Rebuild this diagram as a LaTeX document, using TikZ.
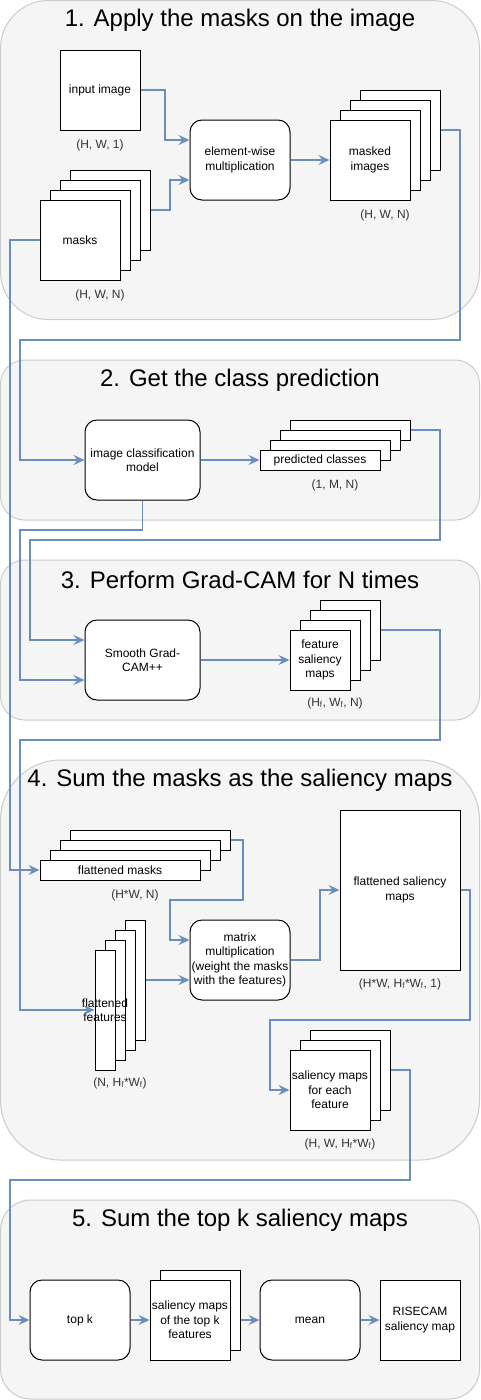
\documentclass[tikz,border=0pt]{standalone}
\usepackage{fontspec}
\setmainfont{Liberation Sans}
\usetikzlibrary{arrows.meta}
\definecolor{secfill}{HTML}{F5F5F5}
\definecolor{secline}{HTML}{CCCCCC}
\definecolor{connblue}{HTML}{6C8EBF}
\definecolor{dimtext}{HTML}{333333}
\tikzset{
  sec/.style={draw=secline, fill=secfill, line width=1pt, inner sep=0pt},
  ttl/.style={font=\fontsize{24}{28}\selectfont, text=black, inner sep=0pt},
  sz/.style 2 args={minimum width=#1, minimum height=#2},
  box/.style={draw=black, fill=white, line width=1pt, inner sep=1pt, align=center, font=\fontsize{12}{14.4}\selectfont},
  rbox/.style={box, rounded corners=12pt},
  dim/.style={font=\fontsize{12}{14.4}\selectfont, text=dimtext, inner sep=0pt},
  conn/.style={draw=connblue, line width=1.3pt, -{Stealth[length=11pt,width=10pt,inset=4pt]}},
}
\begin{document}
\begin{tikzpicture}[x=1pt, y=-1pt]
\useasboundingbox (0,0) rectangle (480,1400);
% sections
\node[sec, sz={479}{319}, rounded corners=48pt] (sec1) at (240,160) {};
\node[sec, sz={479}{160}, rounded corners=24pt] (sec2) at (240,440) {};
\node[sec, sz={479}{160}, rounded corners=24pt] (sec3) at (240,640) {};
\node[sec, sz={479}{400}, rounded corners=60pt] (sec4) at (240,960) {};
\node[sec, sz={479}{199}, rounded corners=30pt] (sec5) at (240,1299.5) {};
\node[ttl] (t1) at (240,20) {1. Apply the masks on the image};
\node[ttl] (t2) at (240,380) {2. Get the class prediction};
\node[ttl] (t3) at (240,580) {3. Perform Grad-CAM for N times};
\node[ttl] (t4) at (240,780) {4. Sum the masks as the saliency maps};
\node[ttl] (t5) at (240,1220) {5. Sum the top k saliency maps};
% section 1
\node[box, sz={80}{80}] (inp) at (100,90) {input image};
\node[dim] (d1) at (100,145) {(H, W, 1)};
\node[box, sz={80}{80}] (masks4) at (110,210) {};
\node[box, sz={80}{80}] (masks3) at (100,220) {};
\node[box, sz={80}{80}] (masks2) at (90,230) {};
\node[box, sz={80}{80}] (masks1) at (80,240) {masks};
\node[dim] (d2) at (100,295) {(H, W, N)};
\node[rbox, sz={100}{80}] (ew) at (240,160) {element-wise\\multiplication};
\node[box, sz={80}{80}] (mimg4) at (400,130) {};
\node[box, sz={80}{80}] (mimg3) at (390,140) {};
\node[box, sz={80}{80}] (mimg2) at (380,150) {};
\node[box, sz={80}{80}] (mimg1) at (370,160) {masked\\images};
\node[dim] (d3) at (385,215) {(H, W, N)};
% section 2
\node[rbox, sz={115}{80}] (icm) at (142.5,460) {image classification\\model};
\node[box, sz={120}{20}] (pc4) at (350,430) {};
\node[box, sz={120}{20}] (pc3) at (340,440) {};
\node[box, sz={120}{20}] (pc2) at (330,450) {};
\node[box, sz={120}{20}] (pc1) at (320,460) {predicted classes};
\node[dim] (d4) at (335,485) {(1, M, N)};
% section 3
\node[rbox, sz={115}{80}] (sg) at (142.5,660) {Smooth Grad-\\CAM++};
\node[box, sz={60}{60}] (fsm4) at (350,630) {};
\node[box, sz={60}{60}] (fsm3) at (340,640) {};
\node[box, sz={60}{60}] (fsm2) at (330,650) {};
\node[box, sz={60}{60}] (fsm1) at (320,660) {feature\\saliency\\maps};
\node[dim] (d5) at (335,703) {(H\textsubscript{f}, W\textsubscript{f}, N)};
% section 4
\node[box, sz={160}{20}] (flatm4) at (150,840) {};
\node[box, sz={160}{20}] (flatm3) at (140,850) {};
\node[box, sz={160}{20}] (flatm2) at (130,860) {};
\node[box, sz={160}{20}] (flatm1) at (120,870) {flattened masks};
\node[dim] (d6) at (135,895) {(H*W, N)};
\node[box, sz={20}{120}] (ff4) at (135,980) {};
\node[box, sz={20}{120}] (ff3) at (125,990) {};
\node[box, sz={20}{120}] (ff2) at (115,1000) {};
\node[box, sz={20}{120}, label={[align=center, font=\fontsize{12}{14.4}\selectfont, inner sep=0pt]center:flattened\\features}] (ff1) at (105,1010) {};
\node[dim] (d7) at (120,1083) {(N, H\textsubscript{f}*W\textsubscript{f})};
\node[rbox, sz={100}{80}, inner sep=0pt] (mm) at (240,960) {matrix\\multiplication\\(weight the masks\\with the features)};
\node[box, sz={120}{160}] (fsal) at (400,890) {flattened saliency\\maps};
\node[dim] (d8) at (400,984) {(H*W, H\textsubscript{f}*W\textsubscript{f}, 1)};
\node[box, sz={80}{80}] (smf3) at (350,1070) {};
\node[box, sz={80}{80}] (smf2) at (340,1080) {};
\node[box, sz={80}{80}] (smf1) at (330,1090) {saliency maps\\for each\\feature};
\node[dim] (d9) at (340,1144) {(H, W, H\textsubscript{f}*W\textsubscript{f})};
% section 5
\node[rbox, sz={100}{80}] (topk) at (80,1320) {top k};
\node[box, sz={80}{80}] (stk2) at (200,1310) {};
\node[box, sz={80}{80}] (stk1) at (190,1320) {saliency maps\\of the top k\\features};
\node[rbox, sz={100}{80}] (mean) at (310,1320) {mean};
\node[box, sz={80}{80}] (rc) at (420,1320) {RISECAM\\saliency map};
% connectors
\draw[conn] (inp.east) -- (165,90) |- ([yshift=20pt]ew.west);
\draw[conn] (masks4.east) -- (170,210) |- ([yshift=-20pt]ew.west);
\draw[conn] (ew.east) -- (mimg1.west);
\draw[conn] (mimg4.east) -- (460,130) -- (460,340) -- (20,340) |- (icm.west);
\draw[conn] (masks1.west) -- (10,240) |- (flatm1.west);
\draw[conn] (icm.east) -- (pc1.west);
\draw[conn] (icm.south) -- (142.5,530) -- (20,530) |- ([yshift=-20pt]sg.west);
\draw[conn] (pc4.east) -- (440,430) -- (440,540) -- (30,540) |- ([yshift=20pt]sg.west);
\draw[conn] (sg.east) -- (fsm1.west);
\draw[conn] (fsm4.east) -- (440,630) -- (440,740) -- (20,740) |- (ff1.west);
\draw[conn] (flatm4.east) -- (243,840) -- (243,900) -- (170,900) |- ([yshift=20pt]mm.west);
\draw[conn] (ff4.east) -- ([yshift=-20pt]mm.west);
\draw[conn] (mm.east) -- (320,960) |- (fsal.west);
\draw[conn] (fsal.east) -- (470,890) -- (470,1020) -- (270,1020) |- (smf1.west);
\draw[conn] (smf3.east) -- (410,1070) -- (410,1180) -- (10,1180) |- (topk.west);
\draw[conn] (topk.east) -- (stk1.west);
\draw[conn] (stk2.east |- mean.west) -- (mean.west);
\draw[conn] (mean.east) -- (rc.west);
\end{tikzpicture}
\end{document}
